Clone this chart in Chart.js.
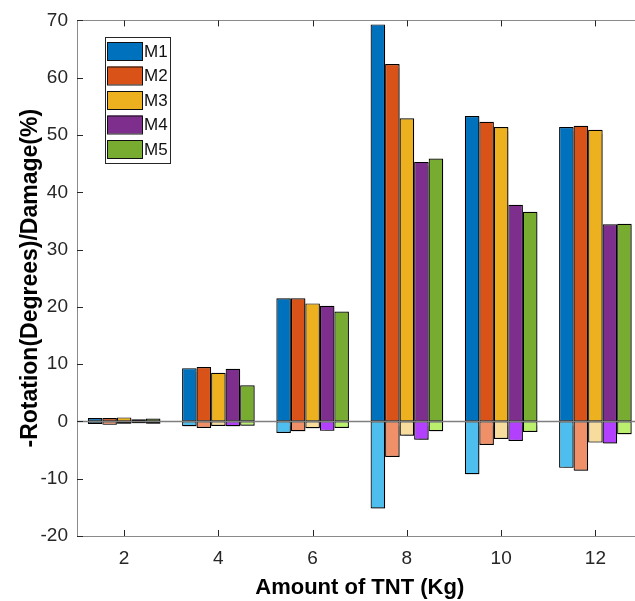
<!DOCTYPE html>
<html>
<head>
<meta charset="utf-8">
<script src="https://cdn.jsdelivr.net/npm/chart.js"></script>
<style>
  html, body { margin: 0; padding: 0; background: #fff; overflow: hidden; }
  #chart { display: block; }
</style>
</head>
<body>
<canvas id="chart" width="660" height="601"></canvas>
<script>
var categories = ['2', '4', '6', '8', '10', '12'];
var seriesNames = ['M1', 'M2', 'M3', 'M4', 'M5'];

// rotation (positive part)
var m1 = [0.6, 9.3, 21.5, 69.3, 53.3, 51.4];
var m2 = [0.6, 9.5, 21.5, 62.4, 52.3, 51.6];
var m3 = [0.7, 8.5, 20.6, 52.9, 51.4, 50.9];
var m4 = [0.4, 9.2, 20.2, 45.3, 37.8, 34.4];
var m5 = [0.5, 6.3, 19.2, 45.9, 36.6, 34.5];

// damage (negative part)
var m1Neg = [-0.45, -0.85, -2.0, -15.2, -9.2, -8.1];
var m2Neg = [-0.6, -1.15, -1.7, -6.2, -4.1, -8.6];
var m3Neg = [-0.4, -0.8, -1.2, -2.5, -3.05, -3.7];
var m4Neg = [-0.3, -0.85, -1.65, -3.2, -3.4, -3.85];
var m5Neg = [-0.4, -0.75, -1.15, -1.7, -1.85, -2.25];

var yTicks = [-20, -10, 0, 10, 20, 30, 40, 50, 60, 70];

var darkColors = ['#0072BD', '#D95319', '#EDB120', '#7E2F8E', '#77AC30'];
var lightColors = ['#4DBEEE', '#F09068', '#F8DC9E', '#B440FF', '#BAF06E'];

var posData = [m1, m2, m3, m4, m5];
var negData = [m1Neg, m2Neg, m3Neg, m4Neg, m5Neg];

function makeDatasets() {
    let sets = [];
    for (let i = 0; i < seriesNames.length; i++) {
        sets.push({
            label: seriesNames[i],
            data: posData[i],
            stack: seriesNames[i],
            backgroundColor: darkColors[i],
            borderColor: '#000',
            borderWidth: 1.2,
            borderSkipped: false
        });
    }
    for (let i = 0; i < seriesNames.length; i++) {
        sets.push({
            label: seriesNames[i] + ' damage',
            data: negData[i],
            stack: seriesNames[i],
            backgroundColor: lightColors[i],
            borderColor: '#000',
            borderWidth: 1.2,
            borderSkipped: false
        });
    }
    return sets;
}

var shadowPlugin = {
    id: 'barShadow',
    beforeDatasetDraw(chart) {
        let ctx = chart.ctx;
        ctx.save();
        ctx.shadowColor = 'rgba(0,0,0,0.3)';
        ctx.shadowBlur = 1;
        ctx.shadowOffsetX = 1.5;
        ctx.shadowOffsetY = 1;
    },
    afterDatasetDraw(chart) {
        chart.ctx.restore();
    }
};

var axesBoxPlugin = {
    id: 'axesBox',
    afterDatasetsDraw(chart) {
        let ctx = chart.ctx;
        let a = chart.chartArea;
        let x = chart.scales.x;
        let y = chart.scales.y;
        ctx.save();
        // zero baseline
        let y0 = Math.round(y.getPixelForValue(0)) + 0.5;
        ctx.strokeStyle = '#7f7f7f';
        ctx.lineWidth = 1.5;
        ctx.beginPath();
        ctx.moveTo(a.left, y0);
        ctx.lineTo(a.right, y0);
        ctx.stroke();

        // box
        ctx.strokeStyle = '#8a8a8a';
        ctx.lineWidth = 1;
        ctx.strokeRect(Math.round(a.left) + 0.5, Math.round(a.top) + 0.5,
            Math.round(a.right - a.left), Math.round(a.bottom - a.top));

        // inward ticks
        ctx.strokeStyle = '#262626';
        ctx.beginPath();
        for (let i = 0; i < categories.length; i++) {
            let px = Math.round(x.getPixelForValue(i)) + 0.5;
            ctx.moveTo(px, a.bottom);
            ctx.lineTo(px, a.bottom - 6);
            ctx.moveTo(px, a.top);
            ctx.lineTo(px, a.top + 6);
        }
        yTicks.forEach(v => {
            let py = Math.round(y.getPixelForValue(v)) + 0.5;
            ctx.moveTo(a.left, py);
            ctx.lineTo(a.left + 6, py);
            ctx.moveTo(a.right, py);
            ctx.lineTo(a.right - 6, py);
        });
        ctx.stroke();

        // legend
        let lx = 105.5, ly = 37.5, lw = 65, lh = 126;
        ctx.fillStyle = '#fff';
        ctx.fillRect(lx, ly, lw, lh);
        ctx.strokeStyle = '#262626';
        ctx.strokeRect(lx, ly, lw, lh);
        ctx.font = '17px "Liberation Sans", Arial, sans-serif';
        ctx.textBaseline = 'middle';
        for (let i = 0; i < seriesNames.length; i++) {
            let ry = 42 + i * 24.5;
            ctx.fillStyle = darkColors[i];
            ctx.fillRect(107.5, ry, 35, 18);
            ctx.strokeStyle = '#111';
            ctx.strokeRect(107.5, ry + 0.5, 35, 18);
            ctx.fillStyle = '#111';
            ctx.fillText(seriesNames[i], 144, ry + 10);
        }
        ctx.restore();
    }
};

var chart = new Chart(document.getElementById('chart'), {
    type: 'bar',
    data: {
        labels: categories,
        datasets: makeDatasets()
    },
    options: {
        responsive: false,
        animation: false,
        layout: { padding: { top: 17, right: 17.5, left: 0, bottom: 0 } },
        datasets: {
            bar: { categoryPercentage: 0.77, barPercentage: 1.0 }
        },
        plugins: {
            legend: { display: false },
            tooltip: { enabled: false }
        },
        scales: {
            x: {
                stacked: true,
                grid: { display: false, drawTicks: false },
                border: { display: false },
                ticks: {
                    color: '#262626',
                    padding: 11,
                    font: { family: '"Liberation Sans", Arial, sans-serif', size: 19 }
                },
                title: {
                    display: true,
                    text: 'Amount of TNT (Kg)',
                    color: '#000',
                    padding: { top: 0, bottom: 0 },
                    font: { family: '"Liberation Sans", Arial, sans-serif', size: 22, weight: 'bold' }
                },
                afterFit: function (scale) { scale.height = 65; }
            },
            y: {
                stacked: true,
                min: -20,
                max: 70,
                grid: { display: false, drawTicks: false },
                border: { display: false },
                afterBuildTicks: function (scale) {
                    scale.ticks = yTicks.map(v => ({ value: v }));
                },
                ticks: {
                    color: '#262626',
                    padding: 9,
                    font: { family: '"Liberation Sans", Arial, sans-serif', size: 19 }
                },
                title: {
                    display: true,
                    text: '-Rotation(Degrees)/Damage(%)',
                    color: '#000',
                    padding: { top: 17, bottom: 0 },
                    font: { family: '"Liberation Sans", Arial, sans-serif', size: 23, weight: 'bold' }
                },
                afterFit: function (scale) { scale.width = 77; }
            }
        }
    },
    plugins: [shadowPlugin, axesBoxPlugin]
});
</script>
</body>
</html>
